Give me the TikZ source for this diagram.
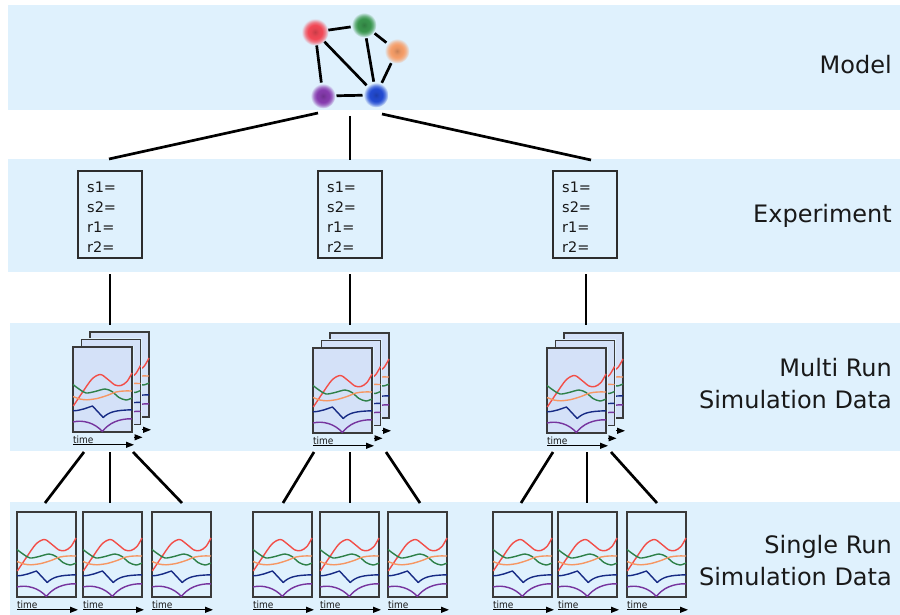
\documentclass[tikz,border=0pt]{standalone}
\usepackage{fontspec}
\setmainfont{DejaVu Sans}
\newfontfamily\condfont{DejaVu Sans Condensed}
\usetikzlibrary{arrows.meta}

% palette
\definecolor{bandc}{RGB}{223,241,253}
\definecolor{sheetc}{RGB}{212,225,248}
\definecolor{framec}{RGB}{58,58,58}
\definecolor{boxc}{RGB}{45,45,45}
\definecolor{labc}{RGB}{25,25,25}
\definecolor{cR}{RGB}{242,78,72}
\definecolor{cG}{RGB}{46,128,72}
\definecolor{cO}{RGB}{246,150,98}
\definecolor{cB}{RGB}{22,42,132}
\definecolor{cP}{RGB}{118,52,158}
\definecolor{gR}{RGB}{242,72,86}
\definecolor{gG}{RGB}{58,150,78}
\definecolor{gO}{RGB}{246,158,105}
\definecolor{gP}{RGB}{135,60,175}
\definecolor{gB}{RGB}{35,75,210}

% soft glowing dots for the model species
\newcommand\declareglow[2]{%
  \pgfdeclareradialshading{#1}{\pgfpoint{0bp}{0bp}}{%
    color(0bp)=(#2!82!black); color(7bp)=(#2!95!black); color(13bp)=(#2);
    color(18bp)=(#2!72!bandc); color(25bp)=(bandc); color(50bp)=(bandc)}}
\declareglow{glowR}{gR}
\declareglow{glowG}{gG}
\declareglow{glowO}{gO}
\declareglow{glowP}{gP}
\declareglow{glowB}{gB}

% frame, five traces and time axis of one time-course plot
\newcommand\plotbody[1]{%
  \fill[bandc] (-1.5,-1.5) rectangle (60.5,101.5);
  \draw[framec, line width=1.4pt, fill=#1] (0,0) rectangle (59,85);
  \draw[curve, cR] plot[smooth] coordinates {(0.3,59) (9,46) (19,32) (27.5,27.5) (35,32.5) (42,38) (48,38.5) (54,34.5) (59,26)};
  \draw[curve, cG] plot[smooth] coordinates {(0,37.5) (6,42) (13,46) (22,44.5) (32,42) (39,44.5) (46,50.5) (53,53) (59,51)};
  \draw[curve, cO] plot[smooth] coordinates {(0,49.5) (7,52) (14,52.8) (24,51.5) (34,48.5) (43,45) (51,44) (59,44)};
  \draw[curve, cB] (0,63.8) .. controls (8,63.6) and (13,61) .. (19.5,59) -- (30.2,70.5) .. controls (36,65) and (42,63.2) .. (59,62.8);
  \draw[curve, cP] (0,75) .. controls (10,72.5) and (22,76) .. (29.3,84.5) .. controls (36,76) and (46,71.5) .. (59,71.8);
  \draw[timearrow] (0,97.8) -- (61,97.8);}

\tikzset{
  wire/.style={line width=2.7pt, black},
  mnode/.style={circle, minimum size=27pt, inner sep=0pt, outer sep=0pt},
  expbox/.style={draw=boxc, line width=2.6pt, minimum width=64pt,
    minimum height=87pt, inner sep=0pt},
  exptext/.style={anchor=north west, align=left, inner sep=0pt, text=labc,
    font=\fontsize{14.5}{20}\selectfont},
  rowlabel/.style={anchor=east, align=right, inner sep=0pt, text=labc,
    font=\fontsize{24}{32}\selectfont},
  curve/.style={line width=1.4pt, line join=round},
  timelbl/.style={anchor=base west, inner sep=0pt, text=labc,
    font=\condfont\fontsize{10}{10}\selectfont},
  timearrow/.style={line width=1.3pt, -{Triangle[length=8pt,width=6pt]}},
  % plot with its axis caption
  panel/.pic={
    \plotbody{#1}
    \node[timelbl] (-t) at (0,96.3) {time};
  },
  % plot lying behind another one in a stack: caption is covered
  backpanel/.pic={
    \plotbody{#1}
  }
}

\begin{document}
\begin{tikzpicture}[x=1pt,y=-1pt]
\useasboundingbox (0,0) rectangle (900,615);

% horizontal bands
\fill[bandc] (8,5) rectangle (900,110);
\fill[bandc] (8,159) rectangle (900,272);
\fill[bandc] (10,323) rectangle (900,451);
\fill[bandc] (10,502) rectangle (900,615);

% row labels
\node[rowlabel] (lmodel) at (892,65) {Model};
\node[rowlabel] (lexp) at (892,216) {Experiment};
\node[rowlabel] (lmulti) at (892,384) {Multi Run\\Simulation Data};
\node[rowlabel] (lsingle) at (892,561) {Single Run\\Simulation Data};

% model network
\node[mnode] (nR) at (315,32) {};
\node[mnode] (nG) at (364,25) {};
\node[mnode] (nO) at (397,51) {};
\node[mnode] (nP) at (323,96) {};
\node[mnode] (nB) at (376,95) {};
\shade[shading=glowR] (nR) circle (13.5pt);
\shade[shading=glowG] (nG) circle (12.5pt);
\shade[shading=glowO] (nO) circle (12.5pt);
\shade[shading=glowP] (nP) circle (12.5pt);
\shade[shading=glowB] (nB) circle (12.5pt);
\draw[wire] (nR) -- (nG);
\draw[wire] (nR) -- (nP);
\draw[wire] (nR) -- (nB);
\draw[wire] (nG) -- (nB);
\draw[wire] (nG) -- (nO);
\draw[wire] (nO) -- (nB);
\draw[wire] (nP) -- (nB);

% experiments: parameter boxes
\node[expbox] (e1) at (110,214.5) {};
\node[expbox] (e2) at (350,214.5) {};
\node[expbox] (e3) at (585,214.5) {};
\node[exptext] (e1txt) at (87,181.3) {s1=\\s2=\\r1=\\r2=};
\node[exptext] (e2txt) at (327,181.3) {s1=\\s2=\\r1=\\r2=};
\node[exptext] (e3txt) at (562,181.3) {s1=\\s2=\\r1=\\r2=};

% model -> experiments
\coordinate (mA) at (318,113);
\coordinate (mB) at (350,116);
\coordinate (mC) at (382,114);
\coordinate (e1t) at (109,159);
\coordinate (e2t) at (350,160);
\coordinate (e3t) at (591,160);
\draw[wire] (mA) -- (e1t);
\draw[wire] (mB) -- (e2t);
\draw[wire] (mC) -- (e3t);

% experiments -> multi-run stacks
\coordinate (e1b) at (110,274);
\coordinate (e2b) at (350,274);
\coordinate (e3b) at (586,274);
\coordinate (s1t) at (110,325);
\coordinate (s2t) at (350,325);
\coordinate (s3t) at (586,325);
\draw[wire] (e1b) -- (s1t);
\draw[wire] (e2b) -- (s2t);
\draw[wire] (e3b) -- (s3t);

% multi-run stacks (back to front)
\pic (s1c) at (90,332) {backpanel=sheetc};
\pic (s1b) at (81.5,339.5) {backpanel=sheetc};
\pic (s1a) at (73,347) {panel=sheetc};
\pic (s2c) at (330,333) {backpanel=sheetc};
\pic (s2b) at (321.5,340.5) {backpanel=sheetc};
\pic (s2a) at (313,348) {panel=sheetc};
\pic (s3c) at (564,333) {backpanel=sheetc};
\pic (s3b) at (555.5,340.5) {backpanel=sheetc};
\pic (s3a) at (547,348) {panel=sheetc};

% single runs
\pic (r11) at (17,512) {panel=bandc};
\pic (r12) at (83,512) {panel=bandc};
\pic (r13) at (152,512) {panel=bandc};
\pic (r21) at (253,512) {panel=bandc};
\pic (r22) at (320,512) {panel=bandc};
\pic (r23) at (388,512) {panel=bandc};
\pic (r31) at (493,512) {panel=bandc};
\pic (r32) at (558,512) {panel=bandc};
\pic (r33) at (627,512) {panel=bandc};

% stacks -> single runs
\coordinate (s1l) at (84,452);  \coordinate (s1m) at (110,452); \coordinate (s1r) at (133,452);
\coordinate (s2l) at (314,452); \coordinate (s2m) at (350,452); \coordinate (s2r) at (386,452);
\coordinate (s3l) at (553,452); \coordinate (s3m) at (587,452); \coordinate (s3r) at (611,452);
\coordinate (r11t) at (45,503);  \coordinate (r12t) at (110,503); \coordinate (r13t) at (182,503);
\coordinate (r21t) at (283,503); \coordinate (r22t) at (350,503); \coordinate (r23t) at (420,503);
\coordinate (r31t) at (521,503); \coordinate (r32t) at (587,503); \coordinate (r33t) at (657,503);
\draw[wire] (s1l) -- (r11t);
\draw[wire] (s1m) -- (r12t);
\draw[wire] (s1r) -- (r13t);
\draw[wire] (s2l) -- (r21t);
\draw[wire] (s2m) -- (r22t);
\draw[wire] (s2r) -- (r23t);
\draw[wire] (s3l) -- (r31t);
\draw[wire] (s3m) -- (r32t);
\draw[wire] (s3r) -- (r33t);
\end{tikzpicture}
\end{document}
